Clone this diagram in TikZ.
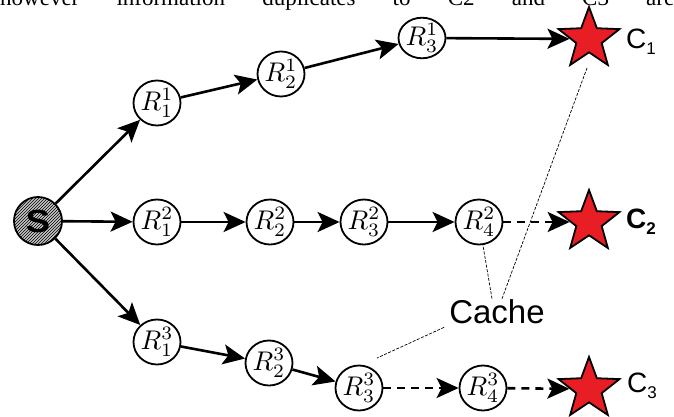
\RequirePackage{fix-cm}
\documentclass[tikz,border=0pt]{standalone}
\usepackage{fontspec}
\newfontfamily\hel{Liberation Sans}
\newfontfamily\tms{Liberation Serif}
\usetikzlibrary{shapes.geometric,arrows.meta,patterns}
\definecolor{starred}{RGB}{232,30,36}
\newcommand{\rlab}[2]{\scalebox{2.7}{$R^{#1}_{#2}$}}
\begin{document}
\begin{tikzpicture}[x=1pt,y=-1pt,
  rnode/.style={ellipse,draw,line width=1.8pt,minimum width=47pt,minimum height=45pt,inner sep=0pt},
  cstar/.style={star,star points=5,star point ratio=2.4,draw,line width=1.8pt,fill=starred,minimum size=64pt,inner sep=0pt},
  arr/.style={line width=2.6pt,-{Stealth[length=22pt,width=20pt,inset=5pt]}},
  darr/.style={arr,dash pattern=on 8pt off 6pt},
  leader/.style={line width=0.7pt,dash pattern=on 3pt off 1.5pt},
  clabel/.style={anchor=west,inner sep=0pt,font=\hel\fontsize{28}{30}\selectfont}]
\useasboundingbox (0,0) rectangle (674,417);
\clip (0,0) rectangle (674,417);
\fill[white] (0,0) rectangle (674,417);

% cropped text line at top
\node[anchor=base west,inner sep=0pt,font=\tms\fontsize{23}{26}\selectfont] (toptext) at (0,6)
  {\makebox[674pt][s]{however information duplicates to C2 and C3 are}};

% source
\node[circle,draw,line width=1.8pt,minimum size=48pt,inner sep=0pt,fill=gray!45,
      postaction={pattern=north east lines},font=\hel\bfseries\fontsize{32}{34}\selectfont] (s) at (38,221) {\scalebox{1.15}[1]{S}};

% row 1
\node[rnode] (r11) at (157,103) {\rlab{1}{1}};
\node[rnode] (r12) at (281,74) {\rlab{1}{2}};
\node[rnode,minimum height=40pt] (r13) at (422,38) {\rlab{1}{3}};
\node[cstar] (c1) at (589,39) {};
\node[clabel] (c1l) at (626,42) {C\raisebox{-6pt}{\fontsize{17}{17}\selectfont 1}};

% row 2
\node[rnode] (r21) at (157,222) {\rlab{2}{1}};
\node[rnode] (r22) at (270,222) {\rlab{2}{2}};
\node[rnode] (r23) at (364,222) {\rlab{2}{3}};
\node[rnode] (r24) at (479,222) {\rlab{2}{4}};
\node[cstar] (c2) at (589,222) {};
\node[clabel,font=\hel\bfseries\fontsize{28}{30}\selectfont] (c2l) at (626,222) {C\raisebox{-6pt}{\fontsize{17}{17}\selectfont 2}};

% row 3
\node[rnode] (r31) at (157,342) {\rlab{3}{1}};
\node[rnode] (r32) at (269,363) {\rlab{3}{2}};
\node[rnode] (r33) at (359,388) {\rlab{3}{3}};
\node[rnode] (r34) at (483,388) {\rlab{3}{4}};
\node[cstar] (c3) at (589,389) {};
\node[clabel] (c3l) at (627,386) {C\raisebox{-6pt}{\fontsize{17}{17}\selectfont 3}};

% cache label
\node[font=\hel\fontsize{33}{35}\selectfont,inner sep=1pt] (cache) at (497,312) {Cache};

% arrows
\draw[arr] (s) -- (r11);
\draw[arr] (r11) -- (r12);
\draw[arr] (r12) -- (r13);
\draw[arr] (r13) -- (c1);

\draw[arr] (s) -- (r21);
\draw[arr] (r21) -- (r22);
\draw[arr] (r22) -- (r23);
\draw[arr] (r23) -- (r24);
\draw[darr] (r24) -- (c2);

\draw[arr] (s) -- (r31);
\draw[arr] (r31) -- (r32);
\draw[arr] (r32) -- (r33);
\draw[darr] (r33) -- (r34);
\draw[darr] (r34) -- (c3);

% cache leaders
\coordinate (c1end) at (587,68);
\coordinate (r33end) at (377,358);
\draw[leader] ([xshift=-5pt]cache.north) -- (r24);
\draw[leader] ([xshift=5pt]cache.north) -- (c1end);
\draw[leader] ([xshift=-4pt,yshift=-2pt]cache.south west) -- (r33end);
\end{tikzpicture}
\end{document}
